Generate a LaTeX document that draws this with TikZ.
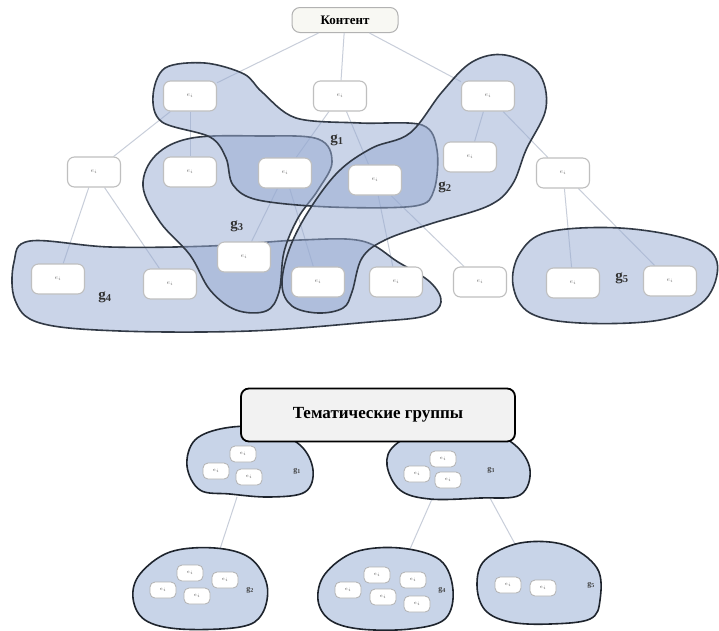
\documentclass[tikz,border=0pt]{standalone}
\usepackage{fontspec}
\setmainfont{Liberation Serif}
\begin{document}
\begin{tikzpicture}[x=1pt,y=-1pt,
  elem/.style={draw=black!25, line width=1.1pt, fill=white, rounded corners=7pt, minimum width=53pt, minimum height=30pt, inner sep=0pt, font=\fontsize{6}{6}\selectfont, text=black!55},
  selem/.style={draw=black!30, line width=0.8pt, fill=white, rounded corners=5pt, minimum width=26pt, minimum height=16pt, inner sep=0pt, font=\fontsize{5}{5}\selectfont, text=black!60},
  link/.style={draw={rgb,255:red,200;green,206;blue,218}, line width=1pt},
  grp/.style={draw={rgb,255:red,50;green,58;blue,70}, line width=1.6pt, fill={rgb,255:red,150;green,170;blue,210}, fill opacity=0.5},
  bgrp/.style={draw={rgb,255:red,30;green,36;blue,45}, line width=1.6pt, fill={rgb,255:red,200;green,212;blue,232}},
  glab/.style={font=\bfseries\fontsize{15}{15}\selectfont, text=black!80, inner sep=0pt},
  sglab/.style={font=\bfseries\fontsize{8}{8}\selectfont, text=black!75, inner sep=0pt}]
\useasboundingbox (0,0) rectangle (719,630);
\fill[white] (0,0) rectangle (719,630);

% ---------- top tree nodes ----------
\node[draw=black!30, line width=1pt, fill={rgb,255:red,248;green,248;blue,243}, rounded corners=8pt, minimum width=106pt, minimum height=25pt, font=\bfseries\fontsize{13}{13}\selectfont] (root) at (345,20) {Контент};

\coordinate (p1) at (190,96);
\coordinate (p2) at (340,96);
\coordinate (p3) at (488,96);
\coordinate (p4) at (94,172);
\coordinate (p5) at (190,172);
\coordinate (p6) at (285,173);
\coordinate (p7) at (375,180);
\coordinate (p8) at (470,157);
\coordinate (p9) at (563,173);
\coordinate (p10) at (58,279);
\coordinate (p11) at (170,284);
\coordinate (p12) at (244,257);
\coordinate (p13) at (318,282);
\coordinate (p14) at (396,282);
\coordinate (p15) at (480,282);
\coordinate (p16) at (573,283);
\coordinate (p17) at (670,281);

% invisible placeholders for edge routing
\foreach \i in {1,...,17} {\node[elem, draw=none, fill=none, text opacity=0] (n\i) at (p\i) {};}

% edges
\draw[link] (root) -- (n1);
\draw[link] (root) -- (n2);
\draw[link] (root) -- (n3);
\draw[link] (n1) -- (n4);
\draw[link] (n1) -- (n5);
\draw[link] (n2) -- (n6);
\draw[link] (n2) -- (n7);
\draw[link] (n3) -- (n8);
\draw[link] (n3) -- (n9);
\draw[link] (n4) -- (n10);
\draw[link] (n4) -- (n11);
\draw[link] (n6) -- (n12);
\draw[link] (n6) -- (n13);
\draw[link] (n7) -- (n14);
\draw[link] (n7) -- (n15);
\draw[link] (n9) -- (n16);
\draw[link] (n9) -- (n17);

% ---------- groups ----------
% g4
\draw[grp] plot[smooth cycle, tension=0.6] coordinates {(30,241) (110,247) (210,246) (300,240) (362,241) (398,262) (430,282) (441,302) (425,316) (370,322) (250,331) (120,331) (40,323) (15,300) (14,262)};
% g3
\draw[grp] plot[smooth cycle, tension=0.6] coordinates {(192,138) (260,136) (318,139) (332,162) (318,190) (298,218) (284,252) (279,292) (266,311) (236,310) (210,290) (190,255) (160,222) (143,186) (156,155)};
% g1
\draw[grp] plot[smooth cycle, tension=0.55] coordinates {(153,96) (165,68) (205,63) (244,74) (262,92) (296,118) (360,123) (422,125) (437,150) (434,190) (415,206) (330,207) (258,200) (233,185) (226,158) (210,137) (162,122)};
% g2
\draw[grp] plot[smooth cycle, tension=0.6] coordinates {(410,133) (442,92) (472,62) (505,55) (538,72) (546,108) (526,150) (512,185) (488,206) (430,224) (385,240) (362,258) (352,292) (343,308) (318,313) (292,306) (282,285) (289,250) (308,212) (338,172) (372,148)};
% g5
\draw[grp] plot[smooth cycle, tension=0.6] coordinates {(520,253) (548,232) (620,228) (690,240) (717,262) (705,300) (660,320) (580,323) (530,313) (513,285)};

% ---------- visible element boxes ----------
\foreach \i in {1,...,17} {\node[elem] (m\i) at (p\i) {$e_i$};}

% group labels
\node[glab] (l1) at (337,140) {g\textsubscript{1}};
\node[glab] (l2) at (445,187) {g\textsubscript{2}};
\node[glab] (l3) at (237,226) {g\textsubscript{3}};
\node[glab] (l4) at (105,297) {g\textsubscript{4}};
\node[glab] (l5) at (622,278) {g\textsubscript{5}};

% ---------- bottom part ----------
\coordinate (b1s) at (237,497);
\coordinate (b2n) at (220,549);
\coordinate (b3s) at (432,499);
\coordinate (b4n) at (410,549);
\coordinate (b3r) at (490,498);
\coordinate (b5n) at (515,544);
\draw[link] (b1s) -- (b2n);
\draw[link] (b3s) -- (b4n);
\draw[link] (b3r) -- (b5n);

% bottom blobs
\draw[bgrp] plot[smooth cycle, tension=0.6] coordinates {(195,440) (225,428) (265,428) (300,445) (313,470) (305,492) (270,497) (230,494) (200,490) (187,466)};
\draw[bgrp] plot[smooth cycle, tension=0.6] coordinates {(395,445) (430,428) (480,428) (515,445) (530,470) (520,495) (480,498) (430,499) (400,490) (387,465)};
\draw[bgrp] plot[smooth cycle, tension=0.6] coordinates {(140,574) (170,552) (215,548) (250,558) (267,585) (262,614) (240,627) (180,629) (145,620) (133,598)};
\draw[bgrp] plot[smooth cycle, tension=0.6] coordinates {(325,574) (355,552) (400,548) (440,560) (453,590) (445,619) (410,629) (360,629) (330,620) (318,600)};
\draw[bgrp] plot[smooth cycle, tension=0.6] coordinates {(485,560) (520,543) (565,545) (597,568) (600,600) (590,619) (550,624) (510,622) (485,610) (477,585)};

% bottom element boxes
\node[selem] (a1) at (243,454) {$e_i$};
\node[selem] (a2) at (216,471) {$e_i$};
\node[selem] (a3) at (249,477) {$e_i$};
\node[sglab] (al) at (297,471) {g\textsubscript{1}};

\node[selem] (c1) at (443,459) {$e_i$};
\node[selem] (c2) at (417,474) {$e_i$};
\node[selem] (c3) at (448,480) {$e_i$};
\node[sglab] (cl) at (491,470) {g\textsubscript{3}};

\node[selem] (d1) at (190,573) {$e_i$};
\node[selem] (d2) at (225,580) {$e_i$};
\node[selem] (d3) at (163,590) {$e_i$};
\node[selem] (d4) at (197,596) {$e_i$};
\node[sglab] (dl) at (250,590) {g\textsubscript{2}};

\node[selem] (f1) at (377,575) {$e_i$};
\node[selem] (f2) at (413,580) {$e_i$};
\node[selem] (f3) at (348,590) {$e_i$};
\node[selem] (f4) at (383,597) {$e_i$};
\node[selem] (f5) at (417,604) {$e_i$};
\node[sglab] (fl) at (442,590) {g\textsubscript{4}};

\node[selem] (h1) at (508,585) {$e_i$};
\node[selem] (h2) at (543,588) {$e_i$};
\node[sglab] (hl) at (591,585) {g\textsubscript{5}};

% title box
\node[draw=black, line width=1.8pt, fill=black!5, rounded corners=8pt, minimum width=274pt, minimum height=53pt, font=\bfseries\fontsize{17}{17}\selectfont] (title) at (378,415) {Тематические группы};
\end{tikzpicture}
\end{document}
